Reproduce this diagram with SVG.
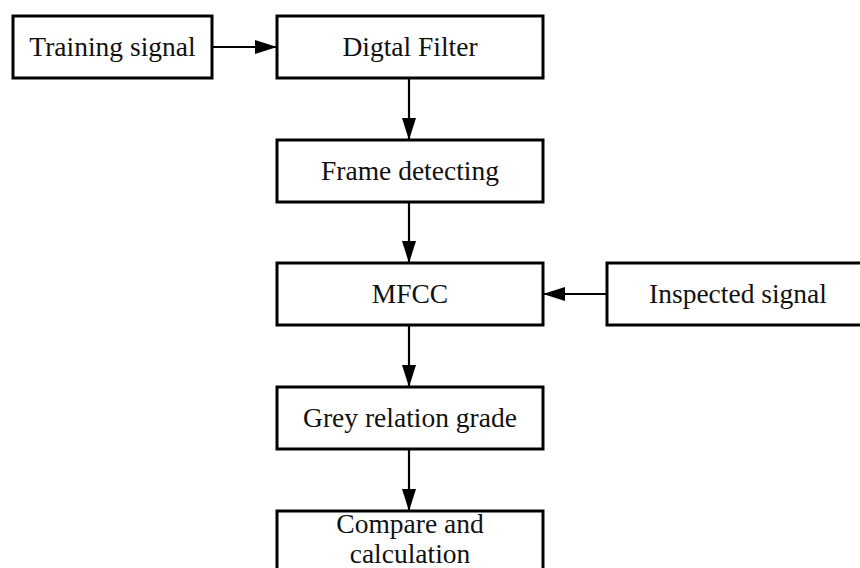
<svg xmlns="http://www.w3.org/2000/svg" width="860" height="568" viewBox="0 0 860 568">
<style>
.box{fill:#fff;stroke:#000;stroke-width:3}
.lbl{font-family:"Liberation Serif","Times New Roman",serif;font-size:27.5px;fill:#111;text-anchor:middle}
.edge{stroke:#000;stroke-width:2.2;fill:none}
</style>
<defs>
<marker id="ah" markerUnits="userSpaceOnUse" markerWidth="22" markerHeight="14" refX="22" refY="7" orient="auto">
<path d="M0,0 L22,7 L0,14 Z" fill="#000"/>
</marker>
</defs>
<rect width="860" height="568" fill="#fff"/>
<g id="connectors">
<line class="edge" x1="212" y1="47" x2="277" y2="47" marker-end="url(#ah)"/>
<line class="edge" x1="409" y1="78" x2="409" y2="140" marker-end="url(#ah)"/>
<line class="edge" x1="409" y1="202" x2="409" y2="263" marker-end="url(#ah)"/>
<line class="edge" x1="607" y1="294" x2="543" y2="294" marker-end="url(#ah)"/>
<line class="edge" x1="409" y1="325" x2="409" y2="387" marker-end="url(#ah)"/>
<line class="edge" x1="409" y1="449" x2="409" y2="511" marker-end="url(#ah)"/>
</g>
<g id="training">
<rect class="box" x="13" y="16" width="199" height="62"/>
<text class="lbl" x="112.5" y="56">Training signal</text>
</g>
<g id="filter">
<rect class="box" x="277" y="16" width="266" height="62"/>
<text class="lbl" x="410" y="56">Digtal Filter</text>
</g>
<g id="frame">
<rect class="box" x="277" y="140" width="266" height="62"/>
<text class="lbl" x="410" y="180">Frame detecting</text>
</g>
<g id="mfcc">
<rect class="box" x="277" y="263" width="266" height="62"/>
<text class="lbl" x="410" y="303">MFCC</text>
</g>
<g id="inspected">
<rect class="box" x="607" y="263" width="260" height="62"/>
<text class="lbl" x="738" y="303">Inspected signal</text>
</g>
<g id="grey">
<rect class="box" x="277" y="387" width="266" height="62"/>
<text class="lbl" x="410" y="427">Grey relation grade</text>
</g>
<g id="compare">
<rect class="box" x="277" y="511" width="266" height="70"/>
<text class="lbl" x="410" y="533" font-size="26">Compare and</text>
<text class="lbl" x="410" y="563" font-size="26">calculation</text>
</g>
</svg>
